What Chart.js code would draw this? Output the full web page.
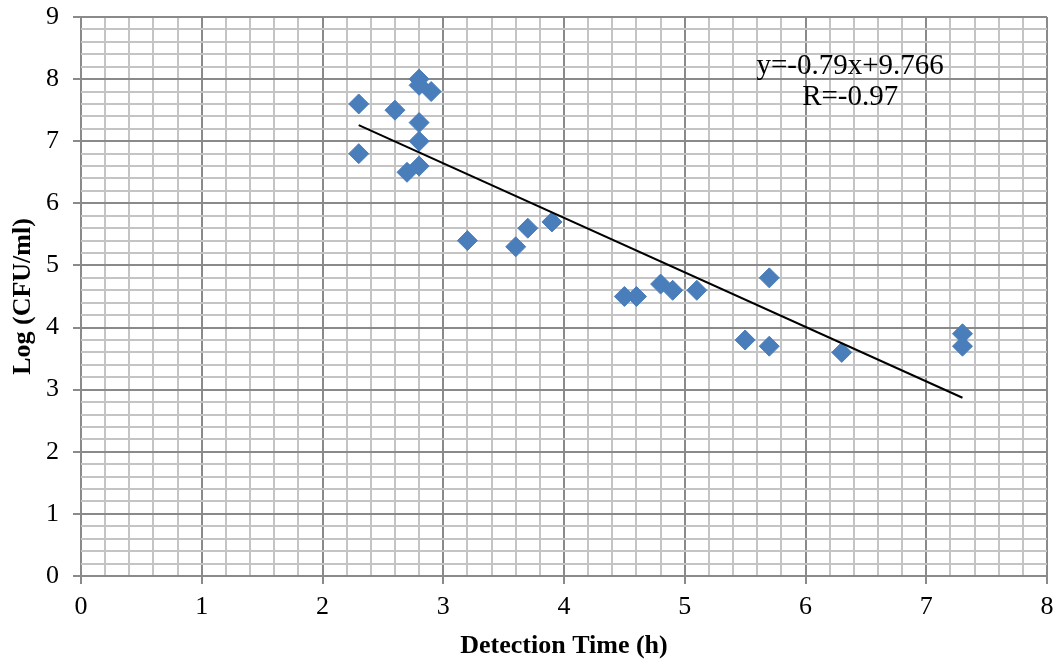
<!DOCTYPE html>
<html>
<head>
<meta charset="utf-8">
<script src="https://cdn.jsdelivr.net/npm/chart.js@4/dist/chart.umd.min.js"></script>
<style>
  html, body { margin: 0; padding: 0; background: #fff; }
  #wrap { width: 1060px; height: 666px; }
</style>
</head>
<body>
<div id="wrap"><canvas id="cfuChart" width="1060" height="666"></canvas></div>
<script>
// detection time (h) vs log count
var detectionTime = [2.3, 2.3, 2.6, 2.7, 2.8, 2.8, 2.9, 2.8, 2.8, 2.8, 3.2, 3.6, 3.7, 3.9, 4.5, 4.6, 4.8, 4.9, 5.1, 5.7, 5.5, 5.7, 6.3, 7.3, 7.3];
var logCfu = [7.6, 6.8, 7.5, 6.5, 8.0, 7.9, 7.8, 7.3, 7.0, 6.6, 5.4, 5.3, 5.6, 5.7, 4.5, 4.5, 4.7, 4.6, 4.6, 4.8, 3.8, 3.7, 3.6, 3.9, 3.7];

// trendline ends as drawn in the picture
var trendX = [2.3, 7.3];
var trendY = [7.26, 2.87];

var equationText = ['y=-0.79x+9.766', 'R=-0.97'];
var equationPos = { x: 6.37, y: [8.21, 7.71] };

var serif = "'Liberation Serif', 'Times New Roman', serif";

var points = detectionTime.map(function (t, i) { return { x: t, y: logCfu[i] }; });
var trend = trendX.map(function (t, i) { return { x: t, y: trendY[i] }; });

function isMajor(v) {
  return Math.abs(v - Math.round(v)) < 1e-6;
}

var equationPlugin = {
  id: 'equation',
  afterDatasetsDraw: function (chart) {
    var ctx = chart.ctx;
    var xs = chart.scales.x, ys = chart.scales.y;
    ctx.save();
    ctx.fillStyle = '#000';
    ctx.font = '29px ' + serif;
    ctx.textAlign = 'center';
    ctx.textBaseline = 'middle';
    equationText.forEach(function (txt, i) {
      ctx.fillText(txt, xs.getPixelForValue(equationPos.x), ys.getPixelForValue(equationPos.y[i]));
    });
    ctx.restore();
  }
};

var ctx = document.getElementById('cfuChart').getContext('2d');
var chart = new Chart(ctx, {
  type: 'scatter',
  data: {
    datasets: [{
      label: 'Trend',
      type: 'line',
      data: trend,
      borderColor: '#000',
      borderWidth: 2,
      pointRadius: 0,
      fill: false,
      order: 0
    }, {
      label: 'Log (CFU/ml)',
      data: points,
      pointStyle: 'rectRot',
      pointRadius: 10,
      backgroundColor: '#4a7ebb',
      borderColor: '#4a7ebb',
      borderWidth: 1,
      order: 1
    }]
  },
  options: {
    responsive: false,
    animation: false,
    layout: { padding: { top: 17, right: 13, left: 0, bottom: 0 } },
    plugins: {
      legend: { display: false },
      tooltip: { enabled: false }
    },
    scales: {
      x: {
        type: 'linear',
        min: 0,
        max: 8,
        border: { display: false },
        ticks: {
          stepSize: 0.2,
          autoSkip: false,
          maxRotation: 0,
          padding: 8,
          color: '#000',
          font: { family: serif, size: 26 },
          callback: function (v) { return isMajor(v) ? Math.round(v) : ''; }
        },
        grid: {
          lineWidth: 2,
          tickLength: 8,
          color: function (c) { return isMajor(c.tick.value) ? '#8a8a8a' : '#c4c4c4'; },
          tickColor: function (c) { return isMajor(c.tick.value) ? '#8a8a8a' : 'rgba(0,0,0,0)'; }
        },
        title: {
          display: true,
          text: 'Detection Time (h)',
          color: '#000',
          font: { family: serif, size: 26, weight: 'bold' },
          padding: { top: 0 }
        },
        afterFit: function (s) { s.height = 90; s.paddingRight = 0; s.paddingLeft = 0; }
      },
      y: {
        type: 'linear',
        min: 0,
        max: 9,
        border: { display: false },
        ticks: {
          stepSize: 0.2,
          autoSkip: false,
          padding: 14,
          color: '#000',
          font: { family: serif, size: 26 },
          callback: function (v) { return isMajor(v) ? Math.round(v) : ''; }
        },
        grid: {
          lineWidth: 2,
          tickLength: 8,
          color: function (c) { return isMajor(c.tick.value) ? '#8a8a8a' : '#c4c4c4'; },
          tickColor: function (c) { return isMajor(c.tick.value) ? '#8a8a8a' : 'rgba(0,0,0,0)'; }
        },
        title: {
          display: true,
          text: 'Log (CFU/ml)',
          color: '#000',
          font: { family: serif, size: 26, weight: 'bold' },
          padding: { top: 8, bottom: 4 }
        },
        afterFit: function (s) { s.width = 81; s.paddingTop = 0; s.paddingBottom = 0; }
      }
    }
  },
  plugins: [equationPlugin]
});
</script>
</body>
</html>
